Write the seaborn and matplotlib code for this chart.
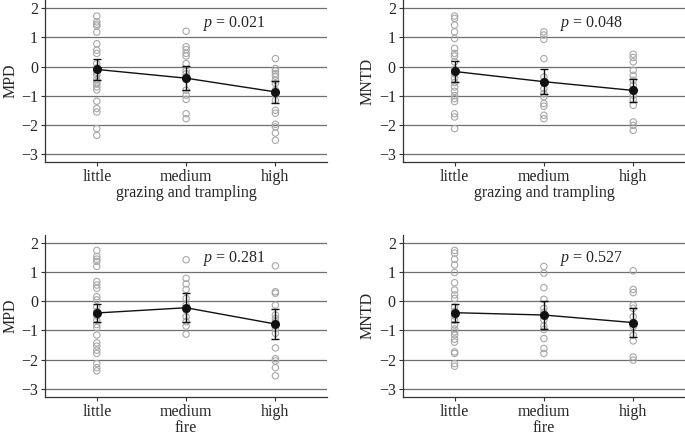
import numpy as np
import pandas as pd
import matplotlib
matplotlib.use("Agg")
import matplotlib.pyplot as plt
import seaborn as sns

levels = ["little", "medium", "high"]

# grazing and trampling - MPD
mpd_graz = {
    "little": [1.73, 1.53, 1.45, 1.39, 1.18, 0.78, 0.56, 0.45, 0.1, -0.05, -0.2, -0.3,
               -0.45, -0.55, -0.6, -0.7, -0.8, -1.19, -1.44, -1.56, -2.13, -2.36],
    "medium": [1.21, 0.68, 0.58, 0.45, 0.36, 0.1, -0.15, -0.25, -0.35, -0.45,
               -0.81, -0.98, -1.13, -1.62, -1.79],
    "high": [0.27, -0.07, -0.15, -0.24, -0.33, -0.47, -0.58, -0.81, -0.95, -1.16,
             -1.5, -1.6, -1.98, -2.07, -2.28, -2.53],
}
mpd_graz_mean = [-0.1, -0.4, -0.87]
mpd_graz_lo = [-0.45, -0.82, -1.25]
mpd_graz_hi = [0.25, 0.02, -0.48]

# grazing and trampling - MNTD
mntd_graz = {
    "little": [1.73, 1.65, 1.42, 1.19, 0.96, 0.62, 0.45, 0.36, 0.16, -0.1, -0.25, -0.4,
               -0.55, -0.7, -0.85, -1.0, -1.1, -1.2, -1.62, -1.73, -2.13],
    "medium": [1.19, 1.08, 0.93, 0.27, -0.36, -0.53, -0.76, -0.93, -1.04, -1.27,
               -1.36, -1.67, -1.79],
    "high": [0.42, 0.31, 0.16, -0.13, -0.3, -0.47, -0.64, -0.79, -0.98, -1.13,
             -1.33, -1.9, -2.02, -2.19],
}
mntd_graz_mean = [-0.17, -0.52, -0.82]
mntd_graz_lo = [-0.52, -0.95, -1.2]
mntd_graz_hi = [0.18, -0.1, -0.44]

# fire - MPD
mpd_fire = {
    "little": [1.75, 1.54, 1.45, 1.37, 1.2, 0.68, 0.56, 0.45, 0.16, 0.05, -0.2, -0.35,
               -0.5, -0.65, -0.8, -0.9, -1.16, -1.43, -1.54, -1.68, -1.79, -2.14,
               -2.28, -2.39],
    "medium": [1.43, 0.79, 0.6, 0.41, 0.1, -0.13, -0.3, -0.53, -0.7, -0.85, -1.13],
    "high": [1.22, 0.33, 0.28, -0.13, -0.47, -0.59, -0.7, -0.93, -1.1, -1.6, -1.97,
             -2.05, -2.28, -2.56],
}
mpd_fire_mean = [-0.4, -0.22, -0.78]
mpd_fire_lo = [-0.7, -0.72, -1.3]
mpd_fire_hi = [-0.1, 0.28, -0.28]

# fire - MNTD
mntd_fire = {
    "little": [1.75, 1.66, 1.45, 1.25, 0.99, 0.64, 0.39, 0.22, 0.1, -0.2, -0.35, -0.5,
               -0.65, -0.8, -0.95, -1.05, -1.15, -1.3, -1.4, -1.74, -1.79, -2.14, -2.23],
    "medium": [1.2, 0.97, 0.47, 0.07, -0.24, -0.39, -0.64, -0.85, -0.97, -1.28,
               -1.62, -1.79],
    "high": [1.05, 0.41, 0.3, -0.13, -0.24, -0.53, -0.76, -0.87, -1.16, -1.36,
             -1.91, -2.02],
}
mntd_fire_mean = [-0.39, -0.47, -0.73]
mntd_fire_lo = [-0.7, -0.95, -1.23]
mntd_fire_hi = [-0.1, 0.02, -0.23]

p_values = ["0.021", "0.048", "0.281", "0.527"]

sns.set_style("white")
plt.rcParams["font.family"] = ["Liberation Serif", "DejaVu Serif"]
plt.rcParams["mathtext.fontset"] = "custom"
plt.rcParams["mathtext.it"] = "Liberation Serif:italic"
plt.rcParams["mathtext.rm"] = "Liberation Serif"

fig = plt.figure(figsize=(6.85, 4.36), dpi=100)
positions = [
    [0.0657, 0.628, 0.412, 0.372],
    [0.588, 0.628, 0.412, 0.372],
    [0.0657, 0.090, 0.412, 0.371],
    [0.588, 0.090, 0.412, 0.371],
]


def draw_panel(ax, pts, means, lo, hi, ylabel, xlabel, p):
    df = pd.DataFrame({
        "level": [lv for lv in levels for _ in pts[lv]],
        "value": [v for lv in levels for v in pts[lv]],
    })
    for yv in range(-3, 3):
        ax.axhline(yv, color="#6e6e6e", lw=0.9, zorder=0)
    sns.stripplot(data=df, x="level", y="value", order=levels, jitter=False,
                  ax=ax, size=4.6, facecolor="none", edgecolor="#a8a8a8",
                  linewidth=0.8, zorder=2)
    xs = np.arange(len(levels))
    m = np.array(means)
    yerr = [m - np.array(lo), np.array(hi) - m]
    ax.errorbar(xs, m, yerr=yerr, fmt="o", color="#111111", ms=5.5,
                capsize=3, elinewidth=1.0, capthick=1.0, zorder=4)
    ax.plot(xs, m, color="#111111", lw=1.0, zorder=3)
    ax.text(1.54, 1.47, "$p$ = " + p, ha="center", va="center", fontsize=11.5)
    ax.set_xlim(-0.58, 2.58)
    ax.set_ylim(-3.28, 2.28)
    ax.set_yticks(range(-3, 3))
    ax.set_ylabel(ylabel, fontsize=11.5, labelpad=2)
    ax.set_xlabel(xlabel, fontsize=11.5, labelpad=0)
    ax.tick_params(axis="both", labelsize=11.5, length=3, width=0.8,
                   color="#333333", pad=2, left=True, bottom=True)
    sns.despine(ax=ax)
    for s in ["left", "bottom"]:
        ax.spines[s].set_color("#333333")
        ax.spines[s].set_linewidth(0.9)


panels = [
    (mpd_graz, mpd_graz_mean, mpd_graz_lo, mpd_graz_hi, "MPD", "grazing and trampling"),
    (mntd_graz, mntd_graz_mean, mntd_graz_lo, mntd_graz_hi, "MNTD", "grazing and trampling"),
    (mpd_fire, mpd_fire_mean, mpd_fire_lo, mpd_fire_hi, "MPD", "fire"),
    (mntd_fire, mntd_fire_mean, mntd_fire_lo, mntd_fire_hi, "MNTD", "fire"),
]

for pos, panel, p in zip(positions, panels, p_values):
    ax = fig.add_axes(pos)
    draw_panel(ax, *panel, p)

fig.savefig("out.png", dpi=100)
